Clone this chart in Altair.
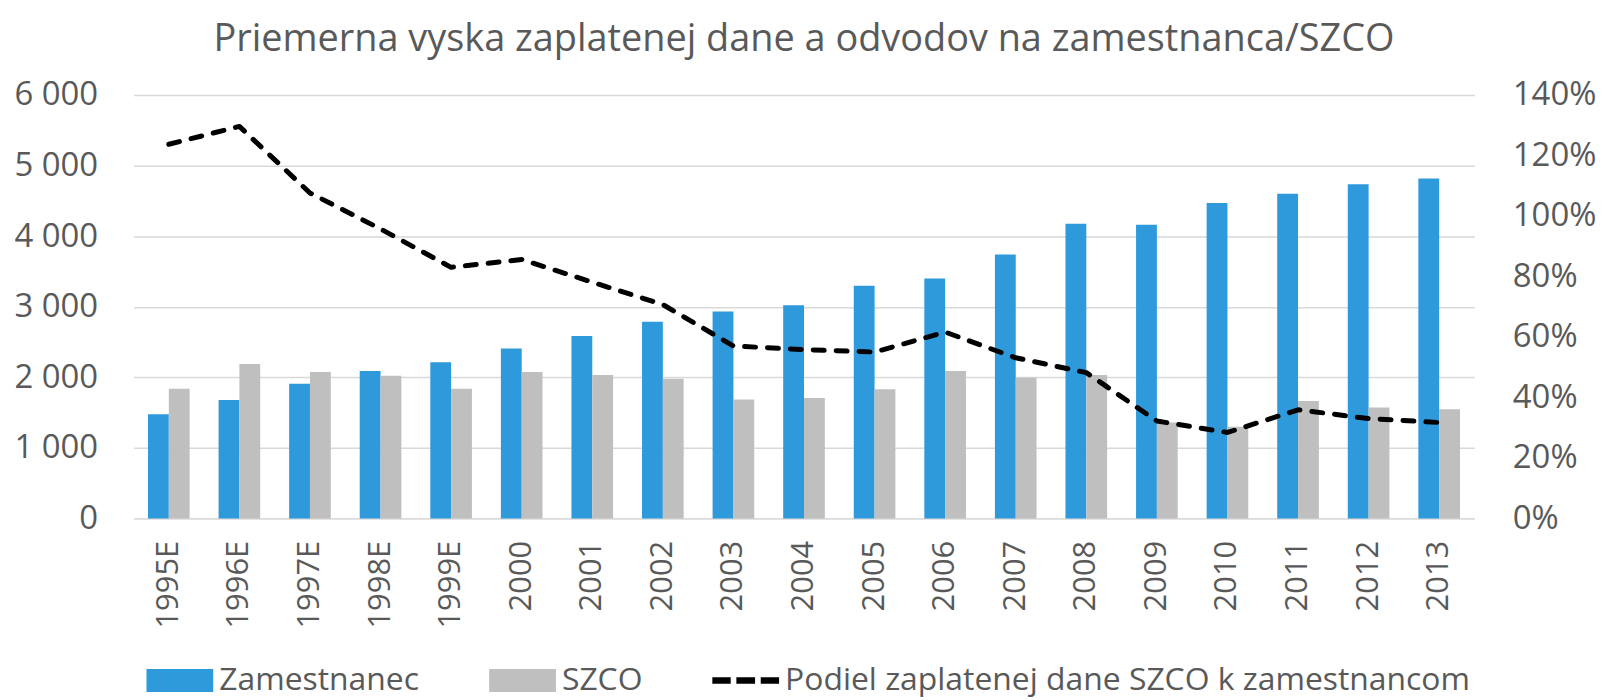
import altair as alt
import pandas as pd

years = ["1995E", "1996E", "1997E", "1998E", "1999E", "2000", "2001", "2002", "2003",
         "2004", "2005", "2006", "2007", "2008", "2009", "2010", "2011", "2012", "2013"]
zamestnanec = [1476, 1678, 1909, 2088, 2211, 2409, 2583, 2785, 2932,
               3021, 3295, 3399, 3738, 4176, 4162, 4468, 4600, 4736, 4817]
szco = [1838, 2187, 2074, 2022, 1838, 2074, 2032, 1980, 1683,
        1707, 1830, 2088, 1994, 2032, 1358, 1297, 1664, 1570, 1547]
podiel = [1.237, 1.296, 1.076, 0.957, 0.830, 0.856, 0.781, 0.707, 0.570,
          0.558, 0.550, 0.616, 0.531, 0.482, 0.322, 0.284, 0.359, 0.330, 0.317]

s_zam = "Zamestnanec"
s_szco = "SZCO"
s_line = "Podiel zaplatenej dane SZCO k zamestnancom"
title_text = "Priemerna vyska zaplatenej dane a odvodov na zamestnanca/SZCO"

FONT = "Open Sans"
TXT = "#595959"
GRID = "#D9D9D9"
series_domain = [s_zam, s_szco, s_line]

bars_df = pd.DataFrame(
    [{"year": y, "series": s_zam, "value": v} for y, v in zip(years, zamestnanec)]
    + [{"year": y, "series": s_szco, "value": v} for y, v in zip(years, szco)]
)
line_df = pd.DataFrame({"year": years, "podiel": podiel, "series": [s_line] * len(years)})

x_scale = alt.Scale(paddingInner=0.41, paddingOuter=0.205)

rect_path = "M-1,-0.343H1V0.343H-1Z"
dash_path = "M-1,-0.1H-0.45V0.1H-1Z M-0.28,-0.1H0.28V0.1H-0.28Z M0.45,-0.1H1V0.1H0.45Z"

legend = alt.Legend(
    title=None,
    orient="none",
    legendX=13,
    legendY=554,
    direction="horizontal",
    symbolSize=4489,
    symbolStrokeWidth=0,
    symbolOpacity=1,
    labelFont=FONT,
    labelFontSize=32,
    labelColor=TXT,
    labelOffset=6,
    columnPadding=70,
    labelLimit=1000,
)

color_scale = alt.Scale(domain=series_domain, range=["#2E9ADC", "#BFBFBF", "#000000"])
shape_scale = alt.Scale(domain=series_domain, range=[rect_path, rect_path, dash_path])

bars = alt.Chart(bars_df).mark_bar().encode(
    x=alt.X(
        "year:N",
        sort=years,
        scale=x_scale,
        axis=alt.Axis(
            title=None,
            labelAngle=-90,
            labelAlign="right",
            labelBaseline="middle",
            labelFont=FONT,
            labelFontSize=31,
            labelColor=TXT,
            labelPadding=22,
            ticks=False,
            domain=True,
            domainColor=GRID,
            domainWidth=1.5,
            grid=False,
        ),
    ),
    xOffset=alt.XOffset("series:N", sort=[s_zam, s_szco], scale=alt.Scale(paddingInner=0, paddingOuter=0)),
    y=alt.Y(
        "value:Q",
        scale=alt.Scale(domain=[0, 6000], nice=False),
        axis=alt.Axis(
            title=None,
            values=[0, 1000, 2000, 3000, 4000, 5000, 6000],
            labelExpr="replace(format(datum.value, ',d'), ',', ' ')",
            labelFont=FONT,
            labelFontSize=33,
            labelColor=TXT,
            labelPadding=36,
            ticks=False,
            domain=False,
            grid=True,
            gridColor=GRID,
            gridWidth=1.5,
        ),
    ),
    color=alt.Color("series:N", scale=color_scale, legend=legend),
)

line = alt.Chart(line_df).mark_line(
    strokeWidth=5, strokeDash=[11, 12], strokeCap="round", strokeJoin="round"
).encode(
    x=alt.X("year:N", sort=years, scale=x_scale),
    y=alt.Y(
        "podiel:Q",
        scale=alt.Scale(domain=[0, 1.4], nice=False),
        axis=alt.Axis(
            title=None,
            orient="right",
            values=[0, 0.2, 0.4, 0.6, 0.8, 1.0, 1.2, 1.4],
            format=".0%",
            labelFont=FONT,
            labelFontSize=33,
            labelColor=TXT,
            labelPadding=38,
            labelAlign="left",
            ticks=False,
            domain=False,
            grid=False,
        ),
    ),
    color=alt.Color("series:N", scale=color_scale, legend=legend),
)

# empty layer that only carries the legend symbol shapes
legend_layer = alt.Chart(line_df).transform_filter("false").mark_point(
    filled=True, size=4489, opacity=1, strokeWidth=0
).encode(
    x=alt.value(0),
    y=alt.value(0),
    color=alt.Color("series:N", scale=color_scale, legend=legend),
    shape=alt.Shape("series:N", scale=shape_scale, legend=legend),
)

chart = (
    alt.layer(bars, line, legend_layer)
    .resolve_scale(y="independent")
    .properties(
        width=1346,
        height=425,
        title=alt.TitleParams(
            text=title_text,
            font=FONT,
            fontSize=38,
            fontWeight="normal",
            color=TXT,
            anchor="middle",
            offset=20,
        ),
        autosize=alt.AutoSizeParams(type="none"),
        padding={"left": 126, "top": 86, "right": 126, "bottom": 180},
    )
    .configure_view(stroke=None)
)

chart.save("out.html", embed_options={"renderer": "svg", "actions": False})
